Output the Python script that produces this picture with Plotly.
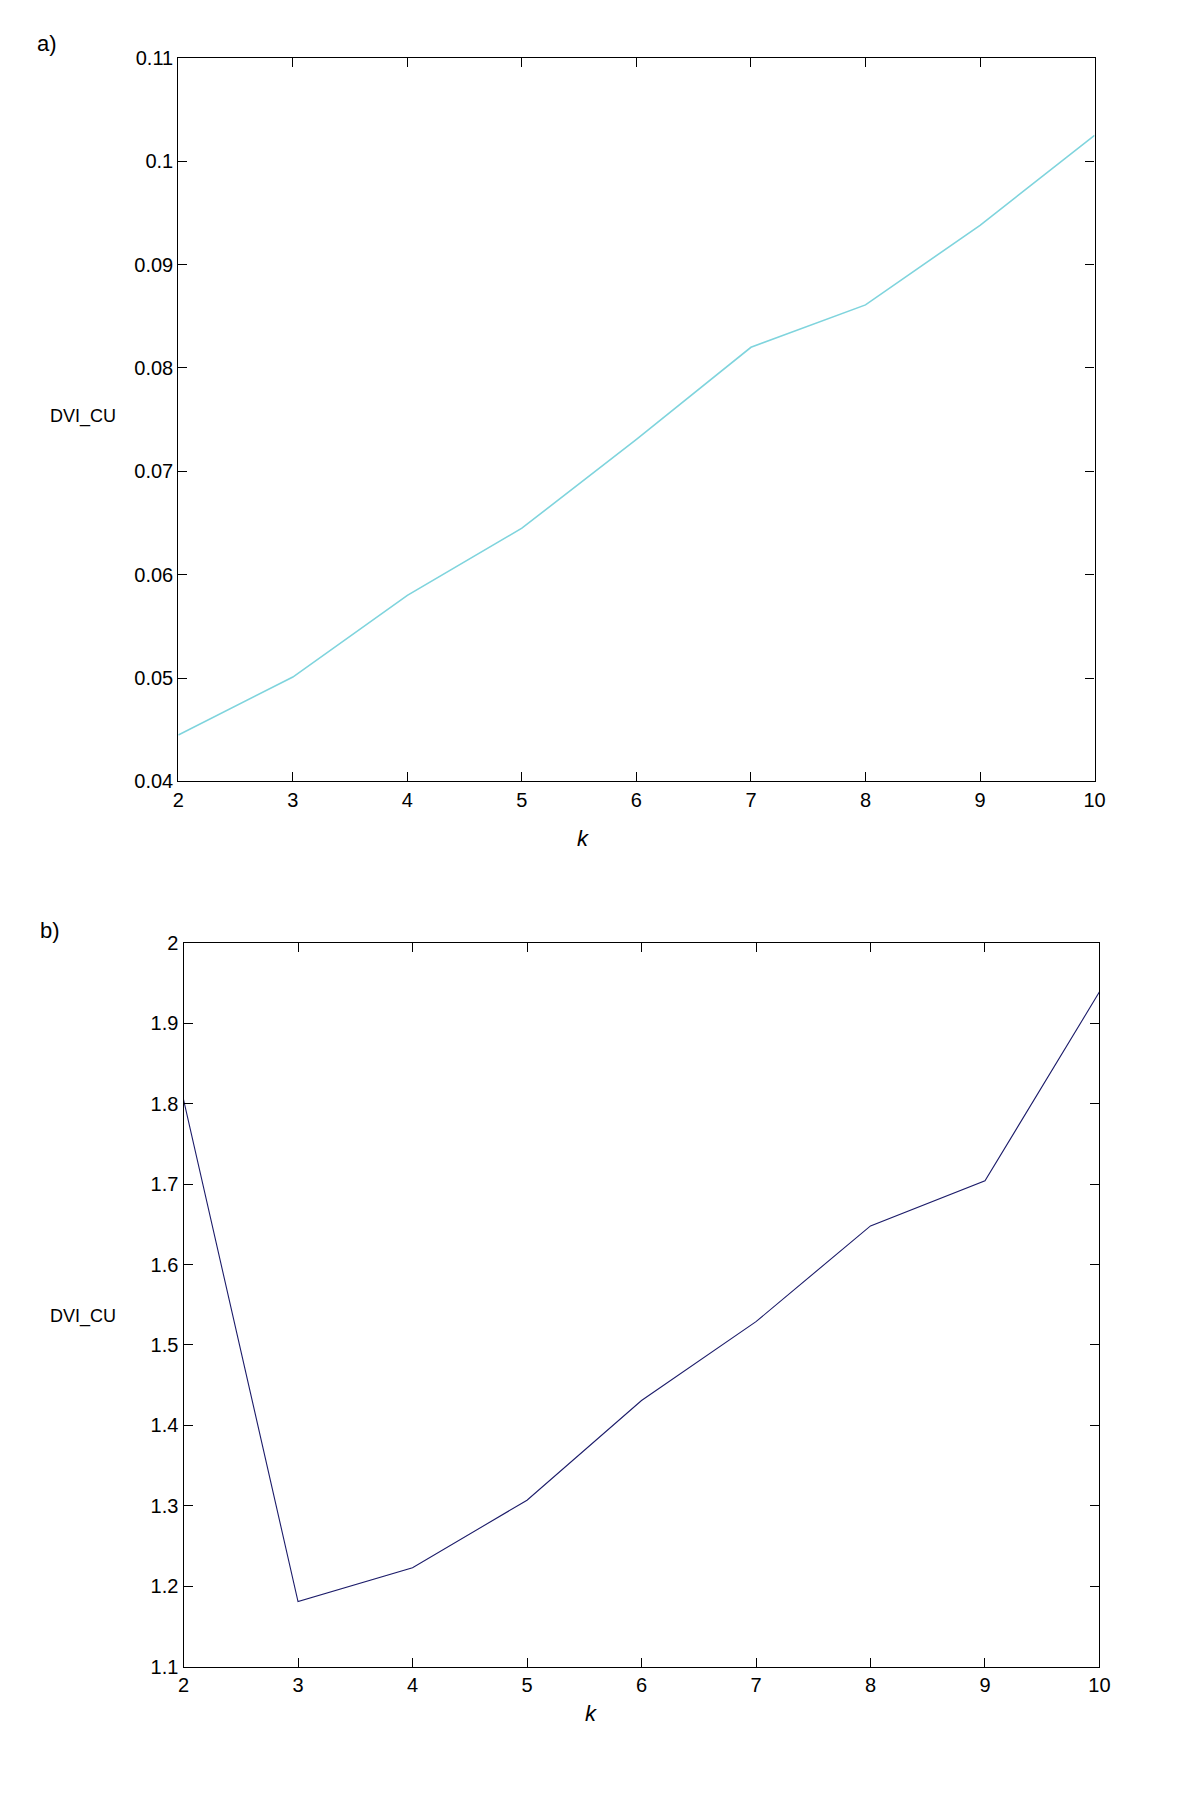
import plotly.graph_objects as go

# ---- data ----
k_values = [2, 3, 4, 5, 6, 7, 8, 9, 10]
dvi_a = [0.0445, 0.0501, 0.0580, 0.0645, 0.0731, 0.0820, 0.0861, 0.0938, 0.1025]
dvi_b = [1.805, 1.181, 1.223, 1.307, 1.431, 1.529, 1.648, 1.704, 1.939]

x_ticks = [2, 3, 4, 5, 6, 7, 8, 9, 10]
y_ticks_a = [0.04, 0.05, 0.06, 0.07, 0.08, 0.09, 0.1, 0.11]
y_ticks_a_text = ["0.04", "0.05", "0.06", "0.07", "0.08", "0.09", "0.1", "0.11"]
y_ticks_b = [1.1, 1.2, 1.3, 1.4, 1.5, 1.6, 1.7, 1.8, 1.9, 2.0]
y_ticks_b_text = ["1.1", "1.2", "1.3", "1.4", "1.5", "1.6", "1.7", "1.8", "1.9", "2"]

panel_labels = ["a)", "b)"]
y_title = "DVI_CU"
x_title = "k"

# page is 1200x1800; the default 8px body margin surrounds the figure
PAGE_W, PAGE_H = 1200, 1800
OFF = 8
W, H = PAGE_W - 2 * OFF, PAGE_H - 2 * OFF
FONT = "Liberation Sans, Arial, sans-serif"

def px(x):  # page x -> paper x
    return (x - OFF) / W

def py(y):  # page y -> paper y
    return 1 - (y - OFF) / H

fig = go.Figure()
fig.add_trace(go.Scatter(x=k_values, y=dvi_a, mode="lines",
                         line=dict(color="#7fd4dd", width=1.6),
                         xaxis="x", yaxis="y", showlegend=False))
fig.add_trace(go.Scatter(x=k_values, y=dvi_b, mode="lines",
                         line=dict(color="#1c1c6a", width=1.1),
                         xaxis="x2", yaxis="y2", showlegend=False))

common = dict(showline=True, linecolor="black", linewidth=1.2, mirror="ticks",
              ticks="inside", ticklen=9, tickcolor="black", tickwidth=1.2,
              showgrid=False, zeroline=False,
              tickfont=dict(family=FONT, size=20, color="black"))

fig.update_layout(
    width=W, height=H,
    margin=dict(l=0, r=0, t=0, b=0),
    paper_bgcolor="white", plot_bgcolor="white",
    font=dict(family=FONT, color="black"),
    xaxis=dict(domain=[px(174.7), px(1104.3)], range=[2, 10], anchor="y",
               tickvals=x_ticks, ticktext=[str(v) for v in x_ticks], **common),
    yaxis=dict(domain=[py(780), py(47.3)], range=[0.04, 0.11], anchor="x",
               tickvals=y_ticks_a, ticktext=y_ticks_a_text, **common),
    xaxis2=dict(domain=[px(180), px(1109.3)], range=[2, 10], anchor="y2",
                tickvals=x_ticks, ticktext=[str(v) for v in x_ticks], **common),
    yaxis2=dict(domain=[py(1676.3), py(943.3)], range=[1.1, 2.0], anchor="x2",
                tickvals=y_ticks_b, ticktext=y_ticks_b_text, **common),
)

def ann(text, x, y, size, italic=False):
    fig.add_annotation(text=f"<i>{text}</i>" if italic else text,
                       x=px(x), y=py(y), xref="paper", yref="paper",
                       showarrow=False, xanchor="center", yanchor="middle",
                       font=dict(family=FONT, size=size, color="black"))

ann(panel_labels[0], 41, 33, 22)
ann(panel_labels[1], 45, 931, 22)
ann(y_title, 78, 410, 18)
ann(y_title, 78, 1322, 18)
ann(x_title, 585, 838, 22, italic=True)
ann(x_title, 593, 1724, 22, italic=True)

fig.write_html("out.html", config={"displayModeBar": False})
